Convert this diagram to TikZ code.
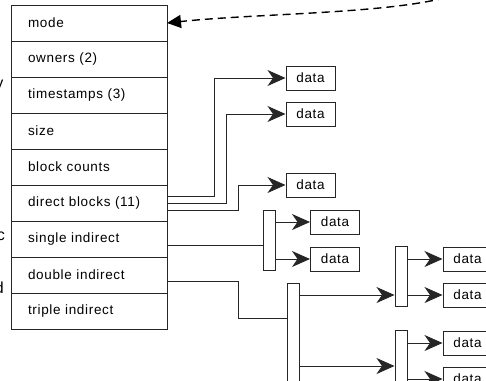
\documentclass[tikz,border=0pt]{standalone}
\usepackage{fontspec}
\newfontfamily\inodefont{Liberation Sans}[LetterSpace=5]
\usetikzlibrary{positioning,arrows.meta}
\tikzset{ptrtip/.tip={Stealth[length=18pt, width=16pt, inset=5.5pt]},
  backtip/.tip={Triangle[length=14pt, width=13pt]}}

\begin{document}
\begin{tikzpicture}[x=1pt, y=-1pt,
  every node/.style = {font=\inodefont\fontsize{13.5}{15}\selectfont},
  field/.style = {draw=black!85, line width=1pt, outer sep=0pt,
    minimum width=156pt, minimum height=36pt, inner xsep=17pt,
    text width=122pt, align=left},
  datablk/.style = {draw=black!85, line width=1pt, minimum width=49pt,
    minimum height=24pt, inner sep=0pt},
  ptrblk/.style = {draw=black!85, line width=1pt, minimum width=12pt,
    inner sep=0pt},
  wire/.style = {draw=black!85, line width=1pt},
  ptr/.style = {wire, -ptrtip}
  ]
  \useasboundingbox (0,0) rectangle (486,380);

  % the inode
  \node[field, anchor=north west] (mode) at (11,5) {mode};
  \node[field, below=0pt of mode] (owners) {owners (2)};
  \node[field, below=0pt of owners] (stamps) {timestamps (3)};
  \node[field, below=0pt of stamps] (size) {size};
  \node[field, below=0pt of size] (counts) {block counts};
  \node[field, below=0pt of counts] (direct) {direct blocks (11)};
  \node[field, below=0pt of direct] (single) {single indirect};
  \node[field, below=0pt of single] (double) {double indirect};
  \node[field, below=0pt of double] (triple) {triple indirect};

  % cut-off text at the left edge
  \node[inner sep=0pt, anchor=base east, font=\inodefont\fontsize{16}{18}\selectfont]
    (cuty) at (3.5,88) {y};
  \node[inner sep=0pt, anchor=base east, font=\inodefont\fontsize{16}{18}\selectfont]
    (cutc) at (5,240) {c};
  \node[inner sep=0pt, anchor=base east, font=\inodefont\fontsize{16}{18}\selectfont]
    (cutd) at (4,293) {d};

  % data blocks
  \node[datablk] (d1) at (310.5,78) {data};
  \node[datablk] (d2) at (310.5,114) {data};
  \node[datablk] (d3) at (310.5,185) {data};
  \node[datablk] (d4) at (335,222) {data};
  \node[datablk] (d5) at (335,259) {data};
  \node[datablk] (d6) at (467.5,259) {data};
  \node[datablk] (d7) at (467.5,295) {data};
  \node[datablk] (d8) at (467.5,343) {data};
  \node[datablk] (d9) at (467.5,379) {data};

  % indirect blocks
  \node[ptrblk, minimum height=60pt] (ind1) at (269,240) {};
  \node[ptrblk, minimum height=112pt] (ind2) at (293,339) {};
  \node[ptrblk, minimum height=60pt] (ind3) at (401,276.5) {};
  \node[ptrblk, minimum height=60pt] (ind4) at (401,360) {};

  % direct pointers
  \draw[ptr] ([yshift=6.5pt]direct.east) -| ([xshift=-71pt]d1.west) -- (d1);
  \draw[ptr] ([yshift=-0.5pt]direct.east) -| ([xshift=-59pt]d2.west) -- (d2);
  \draw[ptr] ([yshift=-7pt]direct.east) -| ([xshift=-47pt]d3.west) -- (d3);

  % single indirect
  \coordinate (s0) at ([yshift=-6.5pt]single.east);
  \draw[wire] (s0) -- (s0 -| ind1.west);
  \draw[ptr] (ind1.east |- d4) -- (d4);
  \draw[ptr] (ind1.east |- d5) -- (d5);

  % double indirect
  \coordinate (t0) at ([yshift=-6.5pt]double.east);
  \draw[wire] (t0) -- ++(71,0) |- ([yshift=21pt]ind2.west);
  \draw[ptr] (ind2.east |- d7) -- (ind3.west |- d7);
  \draw[ptr] ([yshift=-27pt]ind2.east) -- ([yshift=-27pt]ind2.east -| ind4.west);
  \draw[ptr] (ind3.east |- d6) -- (d6);
  \draw[ptr] (ind3.east |- d7) -- (d7);
  \draw[ptr] (ind4.east |- d8) -- (d8);
  \draw[ptr] (ind4.east |- d9) -- (d9);

  % back to the mode field
  \coordinate (src) at (458,-6);
  \draw[line width=1.4pt, dash pattern=on 8pt off 5pt, -backtip]
    (src) .. controls (400,14) and (260,13) .. (mode.east);
\end{tikzpicture}
\end{document}
